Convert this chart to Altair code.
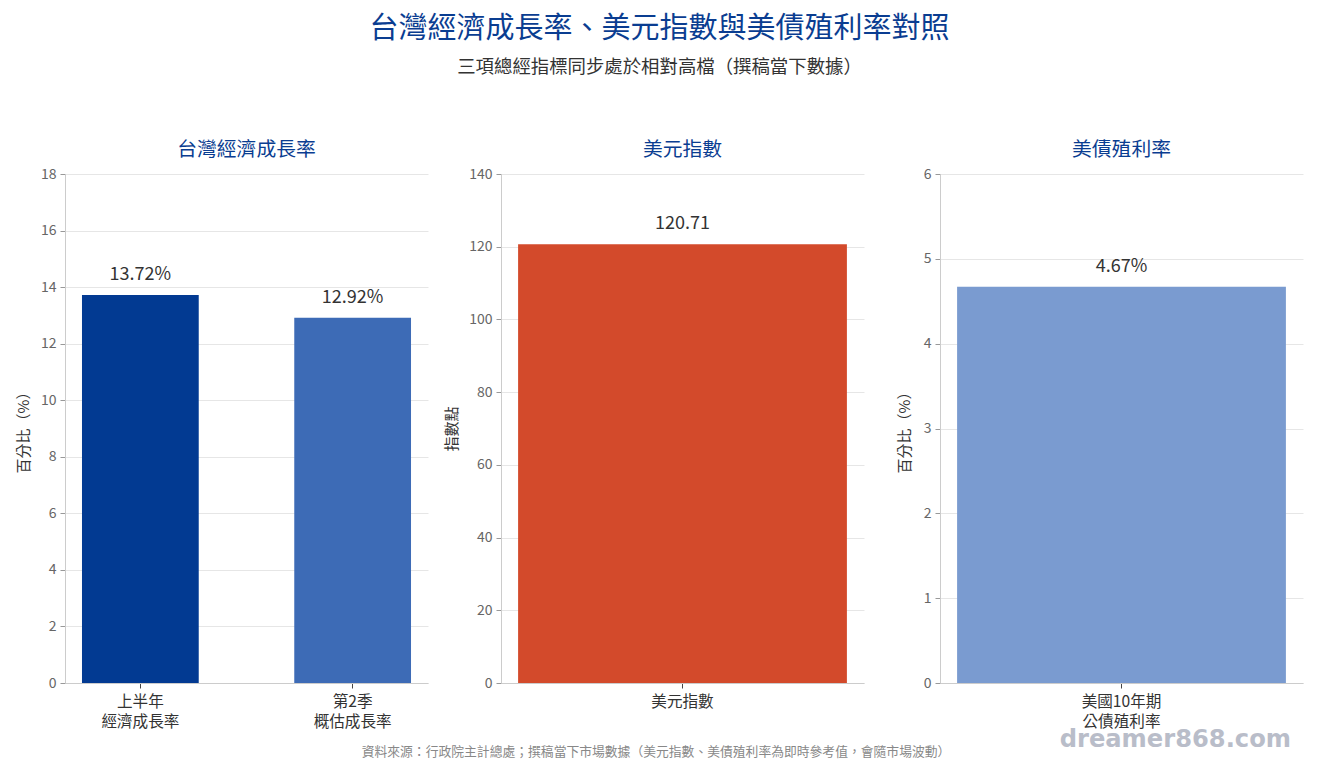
import altair as alt
import pandas as pd

FONT = "Noto Sans CJK TC"

main_title = "台灣經濟成長率、美元指數與美債殖利率對照"
subtitle = "三項總經指標同步處於相對高檔（撰稿當下數據）"
source_note = "資料來源：行政院主計總處；撰稿當下市場數據（美元指數、美債殖利率為即時參考值，會隨市場波動）"
watermark = "dreamer868.com"

gdp_title = "台灣經濟成長率"
gdp_categories = ["上半年 經濟成長率", "第2季 概估成長率"]
gdp_values = [13.72, 12.92]
gdp_labels = ["13.72%", "12.92%"]
gdp_colors = ["#023a92", "#3d6bb6"]
gdp_ticks = [0, 2, 4, 6, 8, 10, 12, 14, 16, 18]

dxy_title = "美元指數"
dxy_categories = ["美元指數"]
dxy_values = [120.71]
dxy_labels = ["120.71"]
dxy_colors = ["#d34a2b"]
dxy_ticks = [0, 20, 40, 60, 80, 100, 120, 140]

yield_title = "美債殖利率"
yield_categories = ["美國10年期 公債殖利率"]
yield_values = [4.67]
yield_labels = ["4.67%"]
yield_colors = ["#7a9bd0"]
yield_ticks = [0, 1, 2, 3, 4, 5, 6]

W, H = 363, 509


def panel(title, cats, vals, labels, colors, ticks, ytitle, pad_inner, pad_outer, title_x, spacer_x=None):
    df = pd.DataFrame({"cat": cats, "val": vals, "label": labels})
    base = alt.Chart(df)
    x = alt.X(
        "cat:N", sort=cats, title=None,
        scale=alt.Scale(paddingInner=pad_inner, paddingOuter=pad_outer),
        axis=alt.Axis(labelAngle=0, labelExpr="split(datum.label, ' ')", labelFontSize=15.6,
                      labelColor="#333333", labelLineHeight=20, labelPadding=6, tickSize=5,
                      tickColor="#444444", domainColor="#cccccc", grid=False, labelFont=FONT),
    )
    y = alt.Y(
        "val:Q", title=ytitle,
        scale=alt.Scale(domain=[ticks[0], ticks[-1]], nice=False),
        axis=alt.Axis(values=ticks, format="d", labelFontSize=14, labelColor="#666666", tickSize=5,
                      tickColor="#999999", domainColor="#cccccc", gridColor="#e6e6e6",
                      titleFontSize=15, titleColor="#333333", titleFontWeight="normal",
                      titleX=title_x, titleY=H / 2, titleAngle=270, titleBaseline="middle",
                      titleAlign="center", titleFont=FONT, labelFont=FONT, labelPadding=4),
    )
    bars = base.mark_bar().encode(
        x=x, y=y,
        color=alt.Color("cat:N", scale=alt.Scale(domain=cats, range=colors), legend=None),
    )
    text = base.mark_text(dy=-20, fontSize=18, color="#333333", font=FONT, baseline="middle").encode(
        x=alt.X("cat:N", sort=cats), y=alt.Y("val:Q"), text="label:N"
    )
    layers = [bars, text]
    if spacer_x is not None:
        spacer = base.mark_rule(color="white").encode(
            x=alt.value(spacer_x), y=alt.value(0), y2=alt.value(1)
        )
        layers.append(spacer)
    return alt.layer(*layers).properties(
        width=W, height=H,
        title=alt.TitleParams(title, fontSize=19.8, color="#0a3d91", font=FONT,
                              fontWeight="normal", offset=7, anchor="middle"),
    )


p1 = panel(gdp_title, gdp_categories, gdp_values, gdp_labels, gdp_colors, gdp_ticks,
           "百分比（%）", 0.45, 0.08, -42)
p2 = panel(dxy_title, dxy_categories, dxy_values, dxy_labels, dxy_colors, dxy_ticks,
           "指數點", 0.0, 0.052, -50)
p3 = panel(yield_title, yield_categories, yield_values, yield_labels, yield_colors, yield_ticks,
           "百分比（%）", 0.0, 0.052, -36, spacer_x=-59)

row = alt.hconcat(p1, p2, p3, spacing=16).resolve_scale(color="independent")

footer_df = pd.DataFrame({"note": [source_note], "mark": [watermark]})
fbase = alt.Chart(footer_df)
note = fbase.mark_text(fontSize=12.8, color="#888888", font=FONT, align="center", baseline="middle").encode(
    x=alt.value(591), y=alt.value(19), text="note:N"
)
wm = fbase.mark_text(fontSize=24.2, fontWeight="bold", color="#b9bdc9", font="DejaVu Sans",
                     align="right", baseline="middle").encode(
    x=alt.value(1226), y=alt.value(7), text="mark:N"
)
footer = alt.layer(note, wm).properties(width=1230, height=26)

chart = alt.vconcat(row, footer, spacing=-2).properties(
    title=alt.TitleParams(main_title, subtitle=subtitle, fontSize=29, subtitleFontSize=18.4,
                          color="#0a3d91", subtitleColor="#333333", anchor="middle", offset=64,
                          subtitlePadding=14, font=FONT, subtitleFont=FONT, fontWeight="normal"),
    padding={"left": 8, "top": 6, "right": 5, "bottom": 2},
    background="white",
).configure(font=FONT).configure_view(stroke="transparent", strokeWidth=0)

chart.save("out.html", embed_options={"renderer": "svg", "actions": False})
